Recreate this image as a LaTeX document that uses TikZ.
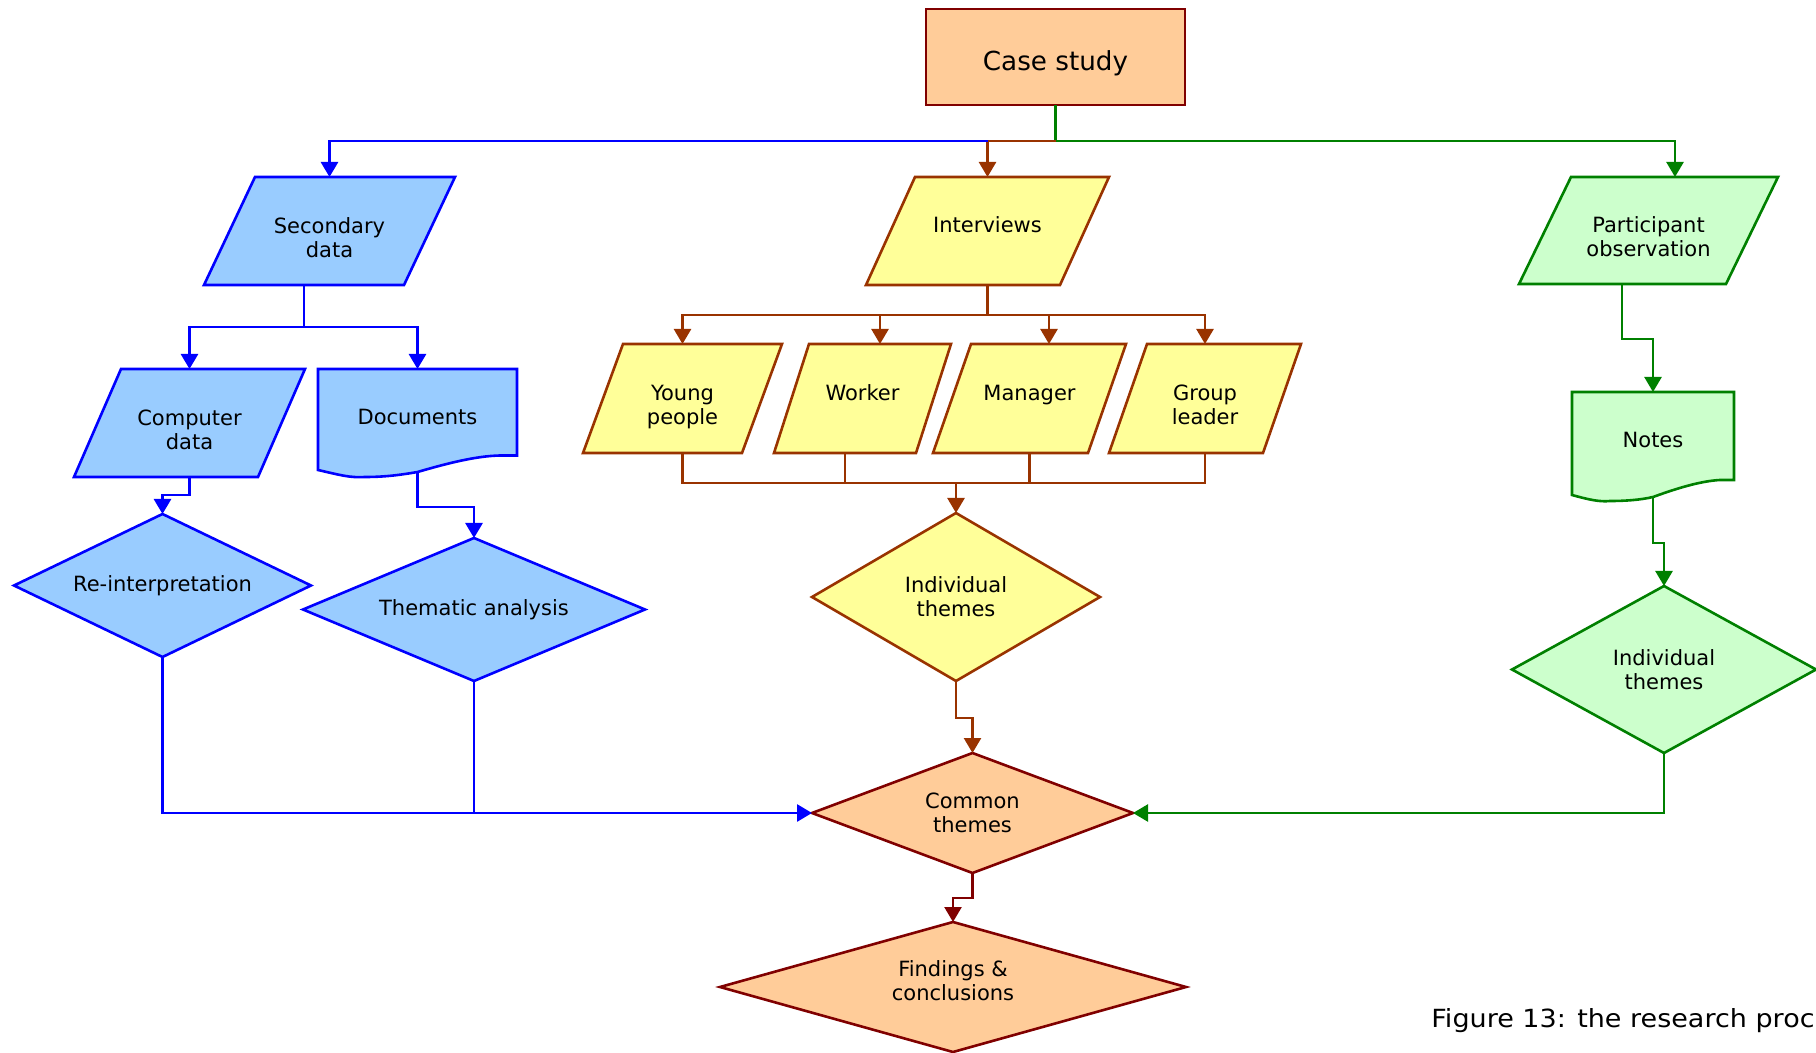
\documentclass[tikz,border=0pt]{standalone}
\usepackage{fontspec}
\setmainfont{DejaVu Sans}
\newfontfamily\capfont[FakeStretch=1.08]{DejaVu Sans}
\usetikzlibrary{shapes.geometric,arrows.meta,calc,backgrounds}

\definecolor{blueline}{HTML}{0000FF}
\definecolor{bluefill}{HTML}{99CCFF}
\definecolor{brownline}{HTML}{993300}
\definecolor{yellowfill}{HTML}{FFFF99}
\definecolor{greenline}{HTML}{008000}
\definecolor{greenfill}{HTML}{CCFFCC}
\definecolor{maroonline}{HTML}{800000}
\definecolor{peachfill}{HTML}{FFCC99}

% slanted data box drawn around a rectangular node
\newcommand\parapath[2]{($(#1.north west)+(#2,0)$) -- (#1.north east) -- ($(#1.south east)+(-#2,0)$) -- (#1.south west) -- cycle}

\begin{document}
\begin{tikzpicture}[x=0.5pt,y=-0.5pt,
  lbl/.style={font=\fontsize{10.5}{12}\selectfont, align=center, inner sep=0pt, outer sep=0pt, text=black},
  slot/.style={lbl, rectangle},
  outline/.style={line width=1.3pt, line join=miter},
  bluefig/.style={outline, draw=blueline, fill=bluefill},
  yellowfig/.style={outline, draw=brownline, fill=yellowfill},
  greenfig/.style={outline, draw=greenline, fill=greenfill},
  peachfig/.style={outline, draw=maroonline, fill=peachfill},
  decision/.style={lbl, diamond},
  link/.style={line width=1.25pt},
  arr/.style={-{Triangle[length=7.5pt,width=8.5pt]}},
  bluelink/.style={link, line width=1.4pt, draw=blueline},
  brownlink/.style={link, draw=brownline},
  greenlink/.style={link, draw=greenline},
  maroonlink/.style={link, draw=maroonline},
]
\useasboundingbox (0,0) rectangle (1816,1053);
\clip (0,0) rectangle (1816,1053);

% top
\node[lbl, peachfig, font=\fontsize{13.1}{15}\selectfont, minimum width=129.5pt, minimum height=48pt] (cs) at (1055.5,57) {\rule{0pt}{16pt}Case study};

% data sources
\node[slot, minimum width=125.5pt, minimum height=54pt] (sd) at (329.5,231) {\rule{0pt}{18pt}Secondary\\data\strut};
\node[slot, minimum width=121.5pt, minimum height=54pt] (iv) at (987.5,231) {\rule{0pt}{17.6pt}Interviews\\\strut};
\node[slot, minimum width=129.5pt, minimum height=53.5pt] (po) at (1648.5,230.5) {\rule{0pt}{18pt}Participant\\observation\strut};

% second level
\node[slot, minimum width=115.5pt, minimum height=54pt] (cd) at (189.5,423) {\rule{0pt}{18pt}Computer\\data\strut};
\node[slot, minimum width=99.5pt, minimum height=51.5pt] (doc) at (417.5,420.5) {\rule{0pt}{20.1pt}Documents\\\strut};
\node[slot, minimum width=99.5pt, minimum height=54.5pt] (yp) at (682.5,398.5) {\rule{0pt}{18pt}Young\\people\strut};
\node[slot, minimum width=88.5pt, minimum height=54.5pt] (wk) at (862.5,398.5) {\rule{0pt}{18pt}Worker\\\strut};
\node[slot, minimum width=96.5pt, minimum height=54.5pt] (mg) at (1029.5,398.5) {\rule{0pt}{18pt}Manager\\\strut};
\node[slot, minimum width=96pt, minimum height=54.5pt] (gl) at (1205,398.5) {\rule{0pt}{18pt}Group\\leader\strut};
\node[slot, minimum width=81pt, minimum height=52.5pt] (nt) at (1653,444.5) {\rule{0pt}{19.1pt}Notes\\\strut};

% analysis
\node[decision, bluefig, aspect=2.08, minimum width=148.5pt, minimum height=71.5pt] (ri) at (162.5,585.5) {Re-interpretation};
\node[decision, bluefig, aspect=2.39, minimum width=171pt, minimum height=71.5pt] (ta) at (474,609.5) {Thematic analysis};
\node[decision, yellowfig, aspect=1.71, minimum width=144pt, minimum height=84pt] (ity) at (956,597) {Individual\\themes};
\node[decision, greenfig, aspect=1.82, minimum width=152pt, minimum height=83.5pt] (itg) at (1664,669.5) {Individual\\themes};
\node[decision, peachfig, aspect=2.675, minimum width=160.5pt, minimum height=60pt] (ct) at (972.5,813) {Common\\themes};
\node[decision, peachfig, aspect=3.58, minimum width=233pt, minimum height=65pt] (fc) at (953,987) {Findings \&\\conclusions\rule[-6pt]{0pt}{6pt}};

% slanted and document outlines behind their labels
\begin{scope}[on background layer]
  \path[bluefig] \parapath{sd}{51};
  \path[yellowfig] \parapath{iv}{49};
  \path[greenfig] \parapath{po}{52};
  \path[bluefig] \parapath{cd}{47};
  \path[yellowfig] \parapath{yp}{40};
  \path[yellowfig] \parapath{wk}{35};
  \path[yellowfig] \parapath{mg}{38};
  \path[yellowfig] \parapath{gl}{38};
  \path[bluefig] (doc.north west) -- (doc.north east) -- (517,455.5) -- (500,455.5)
    .. controls (475,456) and (445,464) .. (doc.south)
    .. controls (400,475) and (385,477) .. (365,477)
    .. controls (350,478) and (340,475) .. (318,470) -- cycle;
  \path[greenfig] (nt.north west) -- (nt.north east) -- (1734,480) -- (1720,480)
    .. controls (1700,481) and (1675,489) .. (nt.south)
    .. controls (1640,500) and (1625,501) .. (1610,501)
    .. controls (1600,502) and (1590,500) .. (1572,495) -- cycle;
\end{scope}

% connectors from the case study
\coordinate (split) at (1055.5,141);
\draw[greenlink, arr] (cs.south) -- (split) -| ($(po.north)+(26.5,0)$);
\draw[brownlink, arr] (split) -| (iv.north);
\draw[bluelink, arr] (iv.north |- split) -| (sd.north);

% secondary data branch
\coordinate (sdbus) at (304,327);
\draw[bluelink] ($(sd.south)+(-25.5,0)$) -- (sdbus);
\draw[bluelink, arr] (sdbus) -| (cd.north);
\draw[bluelink, arr] (sdbus) -| (doc.north);
\draw[bluelink, arr] (cd.south) -- ++(0,18) -| (ri.north);
\draw[bluelink, arr] (doc.south) -- ++(0,35) -| (ta.north);
\draw[bluelink, arr] (ri.south) |- (ct.west);
\draw[bluelink] (ta.south) -- (ta.south |- ct.west);

% interview branch
\coordinate (ivbus) at (987.5,315);
\draw[brownlink] (iv.south) -- (ivbus);
\draw[brownlink, arr] (ivbus) -| (yp.north);
\draw[brownlink, arr] (ivbus) -| ($(wk.north)+(17.5,0)$);
\draw[brownlink, arr] (ivbus) -| ($(mg.north)+(19.5,0)$);
\draw[brownlink, arr] (ivbus) -| (gl.north);
\coordinate (ybus) at (956,483);
\coordinate (wkout) at ($(wk.south)+(-17.5,0)$);
\draw[brownlink] (yp.south) |- (ybus);
\draw[brownlink] (gl.south) |- (ybus);
\draw[brownlink] (wkout) -- (wkout |- ybus);
\draw[brownlink] (mg.south) -- (mg.south |- ybus);
\draw[brownlink, arr] (ybus) -- (ity.north);
\draw[brownlink, arr] (ity.south) -- ++(0,37) -| (ct.north);

% observation branch
\draw[greenlink, arr] ($(po.south)+(-26.5,0)$) -- ++(0,55) -| (nt.north);
\draw[greenlink, arr] (nt.south) -- ++(0,46) -| (itg.north);
\draw[greenlink, arr] (itg.south) |- (ct.east);

% conclusion
\draw[maroonlink, arr] (ct.south) -- ++(0,25) -| (fc.north);

\node[anchor=base west, inner sep=0pt, font=\capfont\fontsize{12.5}{15}\selectfont] (caption) at (1431,1027) {Figure 13: the research proc};
\end{tikzpicture}
\end{document}
